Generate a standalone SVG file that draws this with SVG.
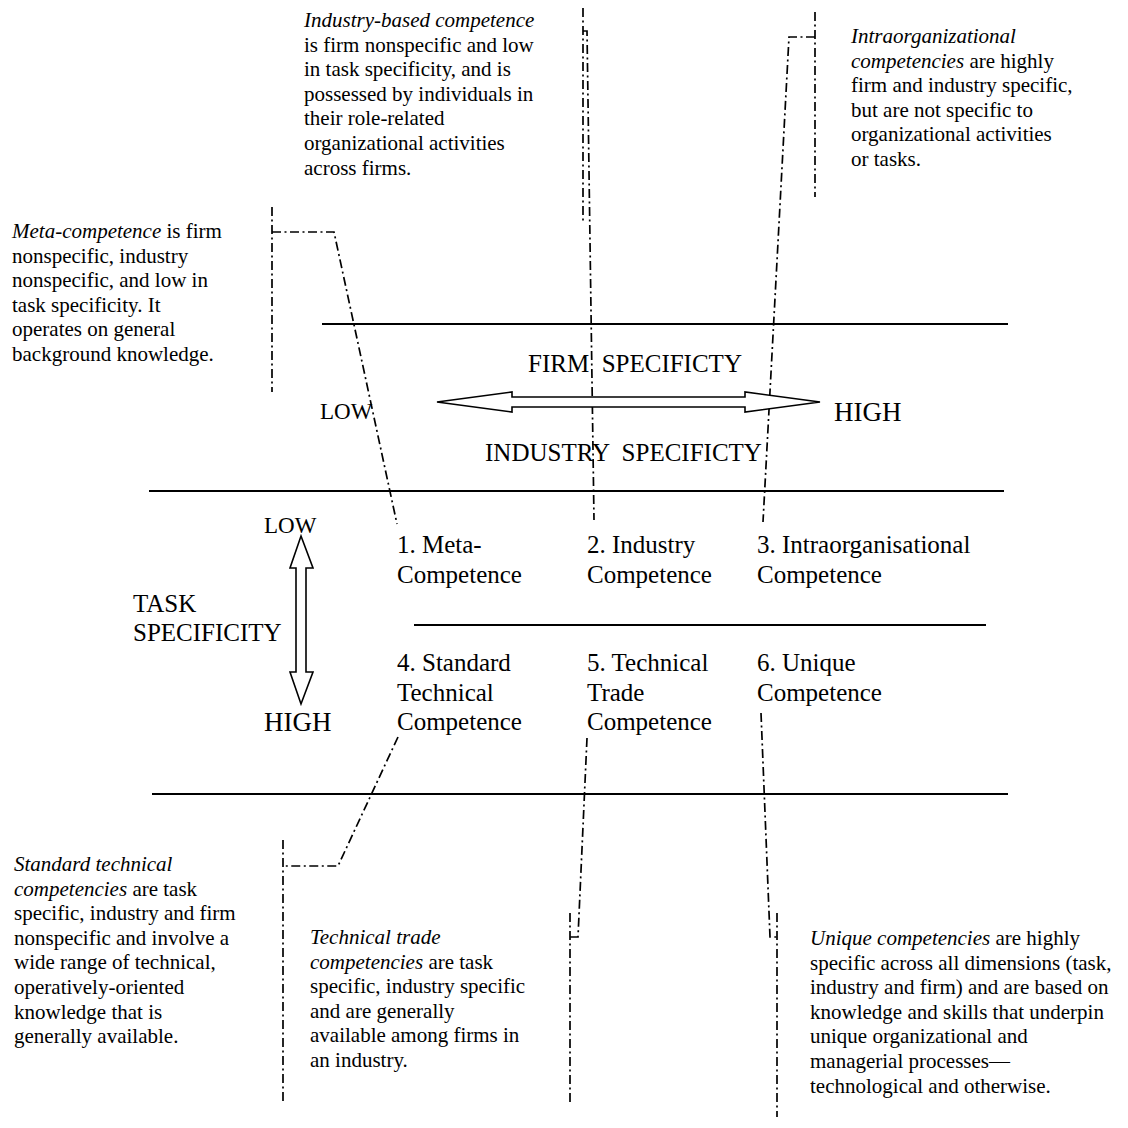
<svg xmlns="http://www.w3.org/2000/svg" width="1128" height="1128" viewBox="0 0 1128 1128">
<style>
.t{font-family:"Liberation Serif","Times New Roman",serif;fill:#000}
.lab{font-size:25px}
.ann{font-size:21px}
.i{font-style:italic}
.rule{stroke:#000;stroke-width:2;fill:none}
.dd{stroke:#000;stroke-width:1.7;fill:none;stroke-dasharray:9 3.5 2 3.5}
.arr{fill:#fff;stroke:#000;stroke-width:1.6;stroke-linejoin:miter}
</style>
<rect width="1128" height="1128" fill="#fff"/>
<g id="table-rules">
<line class="rule" x1="322" y1="324" x2="1008" y2="324"/>
<line class="rule" x1="149" y1="491" x2="1004" y2="491"/>
<line class="rule" x1="414" y1="625" x2="986" y2="625"/>
<line class="rule" x1="152" y1="794" x2="1008" y2="794"/>
</g>
<g id="connectors">
<polyline class="dd" points="272,207 272,392"/>
<polyline class="dd" points="272,232 334,232 397,524"/>
<polyline class="dd" points="583,8 583,223"/>
<polyline class="dd" points="583,31 587,31 594,520"/>
<polyline class="dd" points="815,12 815,197"/>
<polyline class="dd" points="815,37 789,37 763,522"/>
<polyline class="dd" points="283,840 283,1103"/>
<polyline class="dd" points="398,737 338,866 283,866"/>
<polyline class="dd" points="570,913 570,1105"/>
<polyline class="dd" points="587,738 578,937 570,937"/>
<polyline class="dd" points="777,913 777,1117"/>
<polyline class="dd" points="761,713 770,937 777,937"/>
</g>
<g id="firm-industry-axis">
<polygon class="arr" points="437,402 512,392 512,397 745,397 745,392 820,402 745,412 745,407 512,407 512,412"/>
<text class="t" x="320" y="419" font-size="23">LOW</text>
<text class="t" x="834" y="421" font-size="27">HIGH</text>
<text class="t lab" x="528" y="372" xml:space="preserve">FIRM  SPECIFICTY</text>
<text class="t lab" x="485" y="461" xml:space="preserve">INDUSTRY  SPECIFICTY</text>
</g>
<g id="task-axis">
<polygon class="arr" points="301,536 313,568 306,568 306,672 313,672 301,704 290,672 296,672 296,568 290,568"/>
<text class="t" x="264" y="533" font-size="23">LOW</text>
<text class="t" x="264" y="731" font-size="27">HIGH</text>
<text class="t lab" x="133" y="612">TASK<tspan x="133" dy="29">SPECIFICITY</tspan></text>
</g>
<g id="cell-1"><text class="t lab" x="397" y="553">1. Meta-<tspan x="397" dy="29.5">Competence</tspan></text></g>
<g id="cell-2"><text class="t lab" x="587" y="553">2. Industry<tspan x="587" dy="29.5">Competence</tspan></text></g>
<g id="cell-3"><text class="t lab" x="757" y="553">3. Intraorganisational<tspan x="757" dy="29.5">Competence</tspan></text></g>
<g id="cell-4"><text class="t lab" x="397" y="671">4. Standard<tspan x="397" dy="29.5">Technical</tspan><tspan x="397" dy="29.5">Competence</tspan></text></g>
<g id="cell-5"><text class="t lab" x="587" y="671">5. Technical<tspan x="587" dy="29.5">Trade</tspan><tspan x="587" dy="29.5">Competence</tspan></text></g>
<g id="cell-6"><text class="t lab" x="757" y="671">6. Unique<tspan x="757" dy="29.5">Competence</tspan></text></g>
<g id="note-industry">
<text class="t ann" x="304" y="27"><tspan class="i">Industry-based competence</tspan><tspan x="304" dy="24.6">is firm nonspecific and low</tspan><tspan x="304" dy="24.6">in task specificity, and is</tspan><tspan x="304" dy="24.6">possessed by individuals in</tspan><tspan x="304" dy="24.6">their role-related</tspan><tspan x="304" dy="24.6">organizational activities</tspan><tspan x="304" dy="24.6">across firms.</tspan></text>
</g>
<g id="note-intra">
<text class="t ann" x="851" y="43"><tspan class="i">Intraorganizational</tspan><tspan x="851" dy="24.6" class="i">competencies</tspan> are highly<tspan x="851" dy="24.6">firm and industry specific,</tspan><tspan x="851" dy="24.6">but are not specific to</tspan><tspan x="851" dy="24.6">organizational activities</tspan><tspan x="851" dy="24.6">or tasks.</tspan></text>
</g>
<g id="note-meta">
<text class="t ann" x="12" y="238"><tspan class="i">Meta-competence</tspan> is firm<tspan x="12" dy="24.6">nonspecific, industry</tspan><tspan x="12" dy="24.6">nonspecific, and low in</tspan><tspan x="12" dy="24.6">task specificity. It</tspan><tspan x="12" dy="24.6">operates on general</tspan><tspan x="12" dy="24.6">background knowledge.</tspan></text>
</g>
<g id="note-standard">
<text class="t ann" x="14" y="871"><tspan class="i">Standard technical</tspan><tspan x="14" dy="24.6" class="i">competencies</tspan> are task<tspan x="14" dy="24.6">specific, industry and firm</tspan><tspan x="14" dy="24.6">nonspecific and involve a</tspan><tspan x="14" dy="24.6">wide range of technical,</tspan><tspan x="14" dy="24.6">operatively-oriented</tspan><tspan x="14" dy="24.6">knowledge that is</tspan><tspan x="14" dy="24.6">generally available.</tspan></text>
</g>
<g id="note-trade">
<text class="t ann" x="310" y="944"><tspan class="i">Technical trade</tspan><tspan x="310" dy="24.6" class="i">competencies</tspan> are task<tspan x="310" dy="24.6">specific, industry specific</tspan><tspan x="310" dy="24.6">and are generally</tspan><tspan x="310" dy="24.6">available among firms in</tspan><tspan x="310" dy="24.6">an industry.</tspan></text>
</g>
<g id="note-unique">
<text class="t ann" x="810" y="945"><tspan class="i">Unique competencies</tspan> are highly<tspan x="810" dy="24.6">specific across all dimensions (task,</tspan><tspan x="810" dy="24.6">industry and firm) and are based on</tspan><tspan x="810" dy="24.6">knowledge and skills that underpin</tspan><tspan x="810" dy="24.6">unique organizational and</tspan><tspan x="810" dy="24.6">managerial processes—</tspan><tspan x="810" dy="24.6">technological and otherwise.</tspan></text>
</g>
</svg>
